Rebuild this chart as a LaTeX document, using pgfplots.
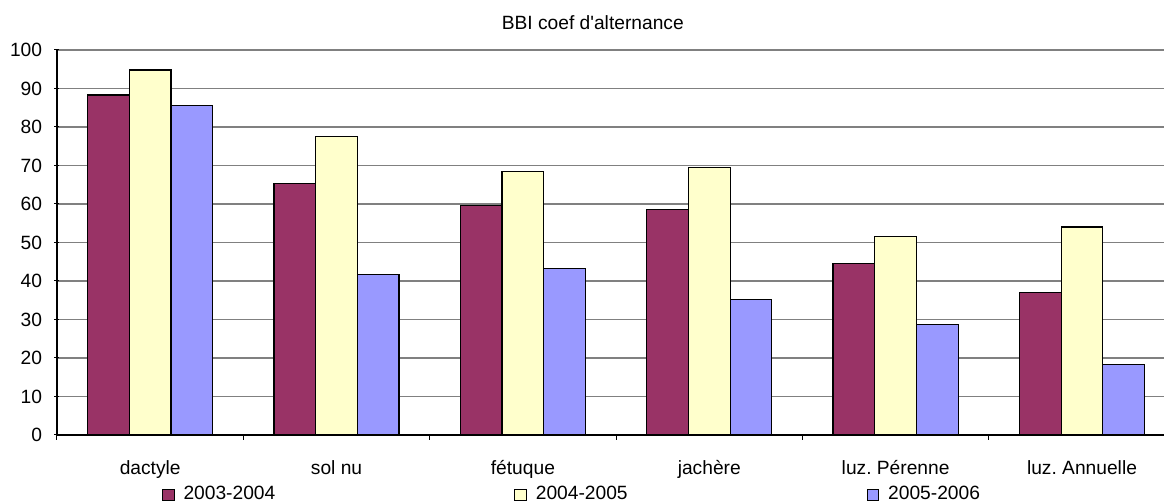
\documentclass[border=0pt]{standalone}
\usepackage{fontspec}
\setmainfont{Liberation Sans}
\usepackage{pgfplots}
\pgfplotsset{compat=1.18}
\definecolor{cA}{HTML}{993366}
\definecolor{cB}{HTML}{FFFFCC}
\definecolor{cC}{HTML}{9999FF}
\definecolor{gridc}{HTML}{808080}
\frenchspacing
\begin{document}
\begin{tikzpicture}[font=\fontsize{9.6}{11.5}\selectfont]
\begin{axis}[
  at={(0,0)}, anchor=south west,
  scale only axis,
  width=553.5pt, height=192.5pt,
  xmin=-0.5, xmax=5.44,
  ymin=0, ymax=100,
  ytick={0,10,...,100},
  xtick={0,1,2,3,4,5},
  xticklabels={dactyle,sol nu,fétuque,jachère,luz. Pérenne,luz. Annuelle},
  minor xtick={-0.5,0.5,1.5,2.5,3.5,4.5},
  major x tick style={draw=none},
  tick align=outside,
  major tick length=2.5pt,
  minor tick length=2.5pt,
  axis x line=bottom, axis y line=left,
  axis line style={line width=0.6pt, black, -},
  every tick/.style={black, line width=0.5pt},
  ymajorgrids,
  grid style={gridc, line width=0.6pt},
  /pgf/number format/assume math mode=true,
  yticklabel style={anchor=east, inner sep=0pt, xshift=-6pt},
  xticklabel style={anchor=base, inner sep=0pt, yshift=-17.5pt},
  ybar=0pt, bar width=20.85pt,
  title={BBI coef d\textquotesingle alternance},
  title style={at={(axis description cs:0.484,1.023)}, anchor=base, inner sep=0pt},
  legend columns=3,
  legend style={draw=none, fill=none, inner sep=0pt, outer sep=0pt,
    at={(axis description cs:0.0949,-0.176)}, anchor=south west,
    nodes={inner sep=0pt},
    /tikz/every odd column/.append style={column sep=4.5pt},
    /tikz/every even column/.append style={column sep=119.5pt}},
  legend image code/.code={\draw[#1, line width=0.5pt, draw=black] (0pt,-3pt) rectangle (5.75pt,2.75pt);},
  every axis plot/.append style={draw=black, line width=0.6pt},
]
\addplot[fill=cA] coordinates {(0,88.3) (1,65.3) (2,59.7) (3,58.6) (4,44.6) (5,37.0)};
\addplot[fill=cB] coordinates {(0,94.8) (1,77.5) (2,68.5) (3,69.5) (4,51.6) (5,54.0)};
\addplot[fill=cC] coordinates {(0,85.5) (1,41.7) (2,43.2) (3,35.2) (4,28.7) (5,18.4)};
\legend{2003-2004,2004-2005,2005-2006}
\end{axis}
\pgfresetboundingbox
\path (-28.5pt,-33.5pt) rectangle (553.5pt,217.5pt);
\end{tikzpicture}
\end{document}
